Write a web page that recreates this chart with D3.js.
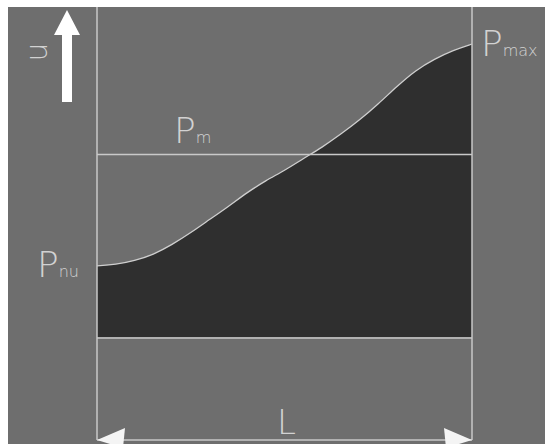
<!DOCTYPE html>
<html>
<head>
<meta charset="utf-8">
<script src="https://cdn.jsdelivr.net/npm/d3@7"></script>
<style>
  body { margin: 0; background: #fff; }
  text { font-family: "DejaVu Sans", "Liberation Sans", sans-serif; font-weight: 200; fill: #d2d2d2; }
</style>
</head>
<body>
<script>
// Position along the length L (0..1) and pressure (% of Pmax)
var positions = [0, 0.05, 0.1, 0.15, 0.2, 0.25, 0.3, 0.35, 0.4, 0.45, 0.5,
                 0.55, 0.6, 0.65, 0.7, 0.75, 0.8, 0.85, 0.9, 0.95, 1];
var pressures = [24.3, 24.7, 26.0, 28.1, 31.5, 35.6, 40.1, 44.5, 49.3, 53.4, 56.8,
                 60.9, 64.7, 69.2, 74.0, 79.5, 85.6, 91.1, 94.9, 97.9, 100];
var meanPressure = 62.3;
var labels = {start: "nu", mean: "m", end: "max", length: "L", axis: "u"};

var W = 545, H = 444;

var x = d3.scaleLinear().domain([0, 1]).range([97, 472]);
var y = d3.scaleLinear().domain([0, 100]).range([337, 44]);

var data = positions.map(function(p, i) { return {p: p, v: pressures[i]}; });

var svg = d3.select("body").append("svg")
    .attr("width", W)
    .attr("height", H);

// grey panel, white strip top and left
svg.append("rect")
    .attr("x", 8).attr("y", 7)
    .attr("width", W - 8).attr("height", H - 7)
    .attr("fill", "#6e6e6e");

// Dark area under the curve
var area = d3.area()
    .x(function(d) { return x(d.p); })
    .y0(y(0))
    .y1(function(d) { return y(d.v); })
    .curve(d3.curveBasis);

svg.append("path")
    .datum(data)
    .attr("fill", "#2f2f2f")
    .attr("d", area);

var line = d3.line()
    .x(function(d) { return x(d.p); })
    .y(function(d) { return y(d.v); })
    .curve(d3.curveBasis);

svg.append("path")
    .datum(data)
    .attr("fill", "none")
    .attr("stroke", "#cfcfcf")
    .attr("stroke-width", 1.3)
    .attr("d", line);

var lineColor = "#c9c9c9";

// vertical boundaries
[0, 1].forEach(function(p) {
  svg.append("line")
      .attr("x1", x(p)).attr("x2", x(p))
      .attr("y1", 7).attr("y2", 440)
      .attr("stroke", lineColor)
      .attr("stroke-width", 1.5);
});

// mean pressure line
svg.append("line")
    .attr("x1", x(0)).attr("x2", x(1))
    .attr("y1", y(meanPressure)).attr("y2", y(meanPressure))
    .attr("stroke", lineColor)
    .attr("stroke-width", 1.5);

// base line
svg.append("line")
    .attr("x1", x(0)).attr("x2", x(1))
    .attr("y1", y(0) + 1).attr("y2", y(0) + 1)
    .attr("stroke", lineColor)
    .attr("stroke-width", 1.5);

// length dimension arrow
var arrowY = 440;
svg.append("line")
    .attr("x1", x(0)).attr("x2", x(1))
    .attr("y1", arrowY).attr("y2", arrowY)
    .attr("stroke", lineColor)
    .attr("stroke-width", 1.5);

svg.append("path")
    .attr("fill", "#f4f4f4")
    .attr("d", "M" + x(0) + "," + arrowY + "L" + (x(0) + 28) + "," + (arrowY - 12) +
               "L" + (x(0) + 26) + "," + (arrowY + 8) + "Z");
svg.append("path")
    .attr("fill", "#f4f4f4")
    .attr("d", "M" + x(1) + "," + arrowY + "L" + (x(1) - 28) + "," + (arrowY - 12) +
               "L" + (x(1) - 26) + "," + (arrowY + 8) + "Z");

svg.append("text")
    .attr("x", (x(0) + x(1)) / 2 + 2)
    .attr("y", 434)
    .attr("text-anchor", "middle")
    .style("font-size", "34px")
    .text(labels.length);

// big upward arrow on the left
svg.append("path")
    .attr("fill", "#ffffff")
    .attr("d", "M67,10 L80,35 L72,35 L72,102 L62,102 L62,35 L54,35 Z");

svg.append("text")
    .attr("transform", "translate(47,52) rotate(-90)")
    .attr("text-anchor", "middle")
    .style("font-size", "30px")
    .text(labels.axis);

// P labels with subscripts
function pLabel(px, py, sub) {
  var t = svg.append("text")
      .attr("x", px)
      .attr("y", py)
      .style("font-size", "36px");
  t.append("tspan").text("P");
  t.append("tspan")
      .style("font-size", "16px")
      .text(sub);
}

pLabel(37, 277, labels.start);
pLabel(174, 143, labels.mean);
pLabel(481, 56, labels.end);
</script>
</body>
</html>
